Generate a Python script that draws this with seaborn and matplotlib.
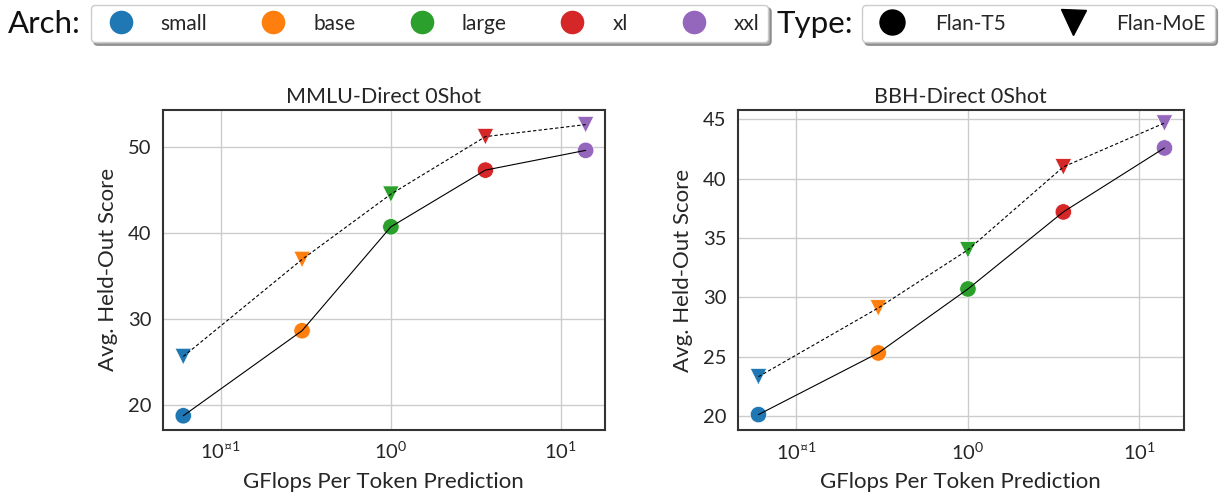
import numpy as np
import pandas as pd
import matplotlib
matplotlib.use("Agg")
import matplotlib.pyplot as plt
import seaborn as sns
from matplotlib.lines import Line2D
from matplotlib.ticker import FixedLocator, FixedFormatter, NullLocator

archs = ["small", "base", "large", "xl", "xxl"]
gflops = [0.06, 0.30, 1.0, 3.6, 14.0]
mmlu_t5 = [18.7, 28.6, 40.7, 47.3, 49.6]
mmlu_moe = [25.6, 36.9, 44.5, 51.2, 52.6]
bbh_t5 = [20.1, 25.3, 30.7, 37.2, 42.6]
bbh_moe = [23.3, 29.1, 34.0, 41.0, 44.7]
types = ["Flan-T5", "Flan-MoE"]
xtick_vals = [0.1, 1.0, 10.0]
xtick_labels = [r"$\mathdefault{10^{¤1}}$", r"$\mathdefault{10^{0}}$", r"$\mathdefault{10^{1}}$"]

sns.set_theme(style="whitegrid")
plt.rcParams["font.family"] = ["Lato", "DejaVu Sans"]
plt.rcParams["mathtext.fontset"] = "custom"
plt.rcParams["mathtext.rm"] = "Lato"
plt.rcParams["mathtext.it"] = "Lato:italic"
plt.rcParams["mathtext.bf"] = "Lato:bold"

palette = dict(zip(archs, sns.color_palette("tab10", 5)))
markers = {"Flan-T5": "o", "Flan-MoE": "v"}

def make_df(t5, moe):
    rows = []
    for a, x, y in zip(archs, gflops, t5):
        rows.append({"Arch": a, "GFlops": x, "Score": y, "Type": "Flan-T5"})
    for a, x, y in zip(archs, gflops, moe):
        rows.append({"Arch": a, "GFlops": x, "Score": y, "Type": "Flan-MoE"})
    return pd.DataFrame(rows)

fig = plt.figure(figsize=(12.25, 4.98), dpi=100)
W, H = 1225, 498
ax1 = fig.add_axes([162.7 / W, 1 - 429.5 / H, (605 - 162.7) / W, (429.5 - 110) / H])
ax2 = fig.add_axes([737.7 / W, 1 - 430 / H, (1184 - 737.7) / W, (430 - 110) / H])

panels = [
    (ax1, make_df(mmlu_t5, mmlu_moe), "MMLU-Direct 0Shot", (17.1, 54.3), [20, 30, 40, 50]),
    (ax2, make_df(bbh_t5, bbh_moe), "BBH-Direct 0Shot", (18.8, 45.8), [20, 25, 30, 35, 40, 45]),
]

for ax, df, title, ylim, yticks in panels:
    sns.lineplot(data=df, x="GFlops", y="Score", style="Type",
                 dashes={"Flan-T5": "", "Flan-MoE": (3, 2)},
                 color="black", linewidth=0.8, ax=ax, legend=False, zorder=3)
    sns.scatterplot(data=df, x="GFlops", y="Score", hue="Arch", style="Type",
                    palette=palette, markers=markers, s=140, linewidth=0.5,
                    edgecolor="white", ax=ax, legend=False, zorder=2)
    ax.set_xscale("log")
    ax.set_xlim(0.0454, 18.2)
    ax.set_ylim(*ylim)
    ax.xaxis.set_major_locator(FixedLocator(xtick_vals))
    ax.xaxis.set_major_formatter(FixedFormatter(xtick_labels))
    ax.xaxis.set_minor_locator(NullLocator())
    ax.set_yticks(yticks)
    ax.set_title(title, fontsize=15.5, color="#262626", pad=5)
    ax.set_xlabel("GFlops Per Token Prediction", fontsize=16, color="#262626", labelpad=7)
    ax.set_ylabel("Avg. Held-Out Score", fontsize=16, color="#262626", labelpad=7)
    ax.tick_params(axis="both", labelsize=14.5, colors="#262626", length=0, pad=8)
    ax.grid(True, color="#cccccc", linewidth=1)
    for sp in ax.spines.values():
        sp.set_edgecolor("#333333")
        sp.set_linewidth(1.5)

# Legends
arch_handles = [Line2D([], [], marker="o", linestyle="", markersize=18,
                       markerfacecolor=palette[a], markeredgecolor="white", label=a)
                for a in archs]
type_handles = [Line2D([], [], marker=markers[t], linestyle="", markersize=18,
                       markerfacecolor="black", markeredgecolor="black", label=t)
                for t in types]

common = dict(loc="upper left", frameon=True, fancybox=True, shadow=True,
              fontsize=15, handlelength=2.0, borderpad=0.42, borderaxespad=0,
              labelcolor="#262626")
fig.legend(handles=arch_handles, bbox_to_anchor=(91 / W, 1 - 5 / H), ncol=5,
           columnspacing=2.17, handletextpad=0.92, **common)
fig.legend(handles=type_handles, bbox_to_anchor=(862 / W, 1 - 5 / H), ncol=2,
           columnspacing=2.2, handletextpad=1.1, **common)
fig.text(8 / W, 1 - 24 / H, "Arch:", fontsize=22.5, va="center", ha="left", color="#111111")
fig.text(777 / W, 1 - 24 / H, "Type:", fontsize=22.5, va="center", ha="left", color="#111111")

fig.savefig("out.png", dpi=100)
